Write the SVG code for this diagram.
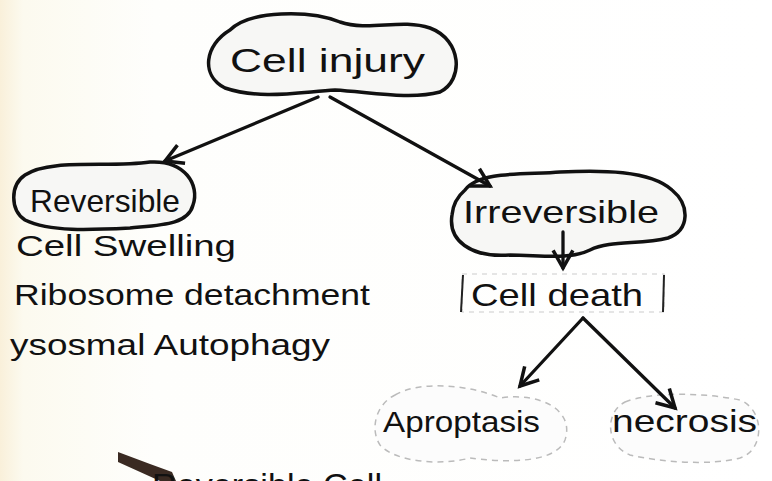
<svg xmlns="http://www.w3.org/2000/svg" width="772" height="481" viewBox="0 0 772 481">
<defs>
<linearGradient id="paper" x1="0" y1="0" x2="1" y2="0">
<stop offset="0" stop-color="#f9f0da"/>
<stop offset="0.03" stop-color="#fcfaef"/>
<stop offset="0.2" stop-color="#fefefc"/>
<stop offset="1" stop-color="#ffffff"/>
</linearGradient>
<marker id="v" viewBox="0 0 20 20" refX="18" refY="10" markerWidth="22" markerHeight="22" markerUnits="userSpaceOnUse" orient="auto" overflow="visible">
<path d="M2,1 L18,10 L2,19" fill="none" stroke="#111" stroke-width="3.2" stroke-linejoin="miter"/>
</marker>
<style>
.t{font-family:"Liberation Sans","DejaVu Sans",sans-serif;fill:#111;}
.blob{fill:#f7f7f5;stroke:#111;stroke-width:3.5;}
.faint{fill:#fcfcfc;stroke:#bbb;stroke-width:1.5;stroke-dasharray:6 5;}
.c{fill:none;stroke:#111;stroke-width:3.3;stroke-linecap:round;}
</style>
</defs>
<rect width="772" height="481" fill="url(#paper)"/>
<g id="cell-injury">
<path class="blob" d="M230,30 C250,10 310,10 340,22 C370,32 400,18 430,28 C462,40 464,80 440,92 C410,100 370,92 335,90 C300,92 260,100 225,88 C200,75 205,45 230,30 Z"/>
<text class="t" x="230" y="72" font-size="34" textLength="195" lengthAdjust="spacingAndGlyphs">Cell injury</text>
</g>
<g id="reversible">
<path class="blob" d="M25,175 C50,158 110,168 150,162 C185,160 200,185 193,205 C188,225 160,225 130,228 C90,230 50,232 25,220 C10,210 10,185 25,175 Z"/>
<text class="t" x="30" y="212" font-size="32" textLength="150" lengthAdjust="spacingAndGlyphs">Reversible</text>
</g>
<g id="reversible-list">
<text class="t" x="16" y="256" font-size="30" textLength="220" lengthAdjust="spacingAndGlyphs">Cell Swelling</text>
<text class="t" x="14" y="305" font-size="30" textLength="356" lengthAdjust="spacingAndGlyphs">Ribosome detachment</text>
<text class="t" x="10" y="355" font-size="30" textLength="320" lengthAdjust="spacingAndGlyphs">ysosmal Autophagy</text>
</g>
<g id="irreversible">
<path class="blob" d="M465,190 C480,170 530,175 560,172 C600,170 650,170 672,190 C690,205 690,230 668,238 C640,245 610,240 590,250 C570,260 540,255 510,255 C470,258 448,240 452,215 C453,203 458,196 465,190 Z"/>
<text class="t" x="463" y="223" font-size="32" textLength="196" lengthAdjust="spacingAndGlyphs">Irreversible</text>
</g>
<g id="cell-death">
<rect x="462" y="274" width="202" height="38" fill="none" stroke="#ccc" stroke-width="1.2" stroke-dasharray="5 5"/>
<line x1="463" y1="275" x2="461" y2="312" stroke="#222" stroke-width="2"/>
<line x1="664" y1="275" x2="663" y2="312" stroke="#222" stroke-width="2"/>
<text class="t" x="471" y="306" font-size="32" textLength="172" lengthAdjust="spacingAndGlyphs">Cell death</text>
</g>
<g id="apoptosis">
<path class="faint" d="M395,395 C420,380 470,385 500,398 C540,392 575,410 565,440 C555,465 500,462 470,458 C440,466 395,462 380,445 C370,430 375,405 395,395 Z"/>
<text class="t" x="383" y="432" font-size="30" textLength="157" lengthAdjust="spacingAndGlyphs">Aproptasis</text>
</g>
<g id="necrosis">
<path class="faint" d="M625,402 C650,392 700,392 740,400 C765,410 765,450 740,458 C710,466 660,462 630,455 C605,445 605,412 625,402 Z"/>
<text class="t" x="612" y="432" font-size="32" textLength="145" lengthAdjust="spacingAndGlyphs">necrosis</text>
</g>
<g id="connectors">
<line class="c" x1="318" y1="97" x2="165" y2="161" marker-end="url(#v)"/>
<line class="c" x1="330" y1="97" x2="490" y2="186" marker-end="url(#v)"/>
<line class="c" x1="563" y1="232" x2="563" y2="268" marker-end="url(#v)"/>
<line class="c" x1="583" y1="318" x2="520" y2="386" marker-end="url(#v)"/>
<line class="c" x1="583" y1="318" x2="675" y2="408" marker-end="url(#v)"/>
</g>
<g id="bottom">
<polygon points="118,452 150,464 172,472 176,481 160,481 118,462" fill="#3a2a22"/>
<text class="t" x="152" y="496" font-size="32" textLength="230" lengthAdjust="spacingAndGlyphs">Reversible Cell</text>
</g>
</svg>
